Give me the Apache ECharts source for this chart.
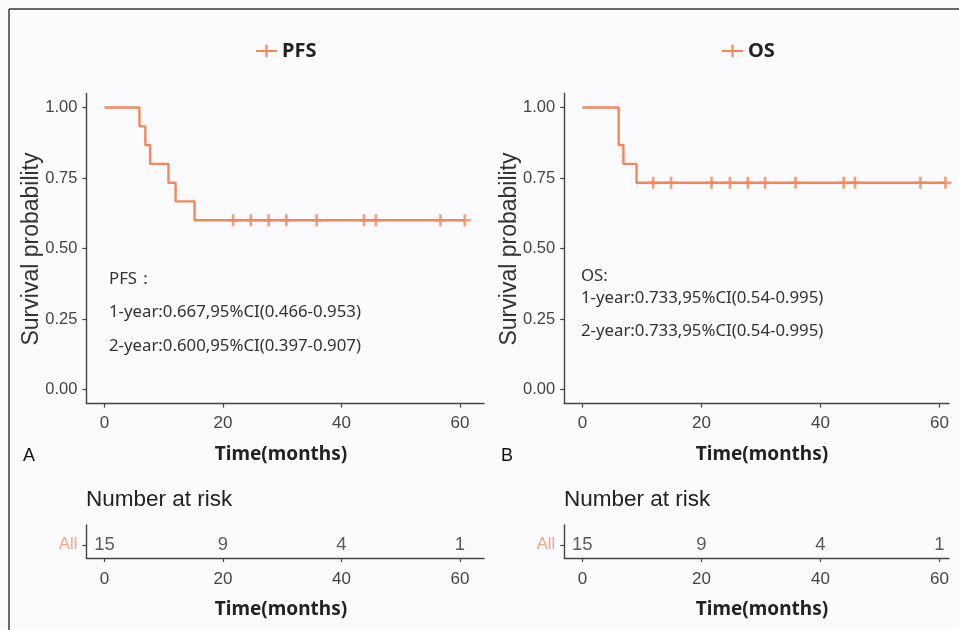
<!DOCTYPE html>
<html>
<head>
<meta charset="utf-8">
<script src="https://cdn.jsdelivr.net/npm/echarts@6/dist/echarts.min.js"></script>
<style>
html,body{margin:0;padding:0;background:#fbfbfd;}
#chart{width:959px;height:630px;}
</style>
</head>
<body>
<div id="chart"></div>
<script>
// ---- data ----
const xTicks = [0, 20, 40, 60];
const yTicks = [0, 0.25, 0.5, 0.75, 1];
// PFS Kaplan-Meier steps (time in months, survival)
const pfsTimes = [0, 5.9, 6.9, 7.7, 10.8, 12.0, 15.2, 60.8];
const pfsSurv  = [1, 0.933, 0.867, 0.800, 0.733, 0.667, 0.600, 0.600];
const pfsCensorTimes = [21.7, 24.7, 27.7, 30.7, 35.8, 43.8, 45.8, 56.7, 60.8];
const pfsCensorSurv  = [0.6, 0.6, 0.6, 0.6, 0.6, 0.6, 0.6, 0.6, 0.6];
// OS Kaplan-Meier steps
const osTimes = [0, 6.1, 6.9, 9.1, 61.0];
const osSurv  = [1, 0.867, 0.800, 0.733, 0.733];
const osCensorTimes = [11.9, 14.9, 21.7, 24.8, 27.8, 30.7, 35.8, 43.9, 45.8, 56.8, 61.0];
const osCensorSurv  = [0.733, 0.733, 0.733, 0.733, 0.733, 0.733, 0.733, 0.733, 0.733, 0.733, 0.733];
// number at risk
const riskTimes = [0, 20, 40, 60];
const riskPFS = [15, 9, 4, 1];
const riskOS  = [15, 9, 4, 1];
const pfsNotes = ['PFS：', '1-year:0.667,95%CI(0.466-0.953)', '2-year:0.600,95%CI(0.397-0.907)'];
const osNotes  = ['OS:', '1-year:0.733,95%CI(0.54-0.995)', '2-year:0.733,95%CI(0.54-0.995)'];

// ---- styling ----
const COL = '#f2875c';
const AXC = '#444';
const TICKF = '"Liberation Sans Narrow","Liberation Sans",Arial,sans-serif';
const TXTF = '"Noto Sans","Open Sans",sans-serif';
const SANS = '"Liberation Sans",Arial,sans-serif';
const plusPath = 'path://M0,3.9h10v2.2h-10z M3.9,0h2.2v10h-2.2z';
const legendPath = 'path://M0,5h20v2h-20z M9,0h2v12h-2z';

const zip = (a, b) => a.map((v, i) => [v, b[i]]);

function xAxisCfg(gi, min, max, margin) {
  return {
    type: 'value', gridIndex: gi, min: min, max: max,
    axisLine: {show: true, onZero: false, lineStyle: {color: AXC, width: 1.4}},
    axisTick: {show: true, customValues: xTicks, length: 4, lineStyle: {color: AXC, width: 1.2}},
    axisLabel: {customValues: xTicks, margin: margin, color: '#444', fontSize: 17, fontFamily: TICKF},
    splitLine: {show: false}
  };
}
function yMainCfg(gi) {
  return {
    type: 'value', gridIndex: gi, min: -0.05, max: 1.05,
    axisLine: {show: true, onZero: false, lineStyle: {color: AXC, width: 1.4}},
    axisTick: {show: true, customValues: yTicks, length: 4, lineStyle: {color: AXC, width: 1.2}},
    axisLabel: {customValues: yTicks, margin: 9, color: '#444', fontSize: 16.5, fontFamily: TICKF,
      formatter: v => v.toFixed(2)},
    splitLine: {show: false}
  };
}
function yRiskCfg(gi) {
  return {
    type: 'value', gridIndex: gi, min: 0, max: 1,
    axisLine: {show: true, onZero: false, lineStyle: {color: AXC, width: 1.4}},
    axisTick: {show: true, customValues: [0.4], length: 4, lineStyle: {color: AXC, width: 1.2}},
    axisLabel: {customValues: [0.4], margin: 9, color: '#f4a383', fontSize: 16.5, fontFamily: TICKF,
      formatter: () => 'All'},
    splitLine: {show: false}
  };
}
function riskSeries(gi, vals) {
  return {
    type: 'scatter', xAxisIndex: gi, yAxisIndex: gi, symbolSize: 0, silent: true,
    data: riskTimes.map((t, i) => [t, 0.4, vals[i]]),
    label: {show: true, position: 'inside', formatter: p => String(p.data[2]),
      color: '#333', fontSize: 18.5, fontFamily: TICKF}
  };
}
function noteText(x, y, s) {
  return {type: 'text', x: x, y: y, style: {text: s, fill: '#333', font: '16.8px ' + TXTF, verticalAlign: 'middle'}};
}
function titleText(x, y, s) {
  return {type: 'text', x: x, y: y, style: {text: s, fill: '#222', font: 'bold 19px ' + TXTF, align: 'center', verticalAlign: 'middle'}};
}

const chart = echarts.init(document.getElementById('chart'), null, {renderer: 'canvas'});
const option = {
  backgroundColor: '#fbfbfd',
  animation: false,
  legend: [
    {data: [{name: 'PFS', icon: legendPath}], left: 251, top: 36, itemWidth: 21, itemHeight: 13, itemGap: 6,
      textStyle: {fontSize: 20, fontWeight: 'bold', color: '#222', fontFamily: TXTF}},
    {data: [{name: 'OS', icon: legendPath}], left: 717, top: 36, itemWidth: 21, itemHeight: 13, itemGap: 6,
      textStyle: {fontSize: 20, fontWeight: 'bold', color: '#222', fontFamily: TXTF}}
  ],
  grid: [
    {left: 86.4, top: 93.4, width: 397.6, height: 310.2},
    {left: 564.2, top: 93.4, width: 384.8, height: 310.2},
    {left: 86.4, top: 525, width: 397.6, height: 33},
    {left: 564.2, top: 525, width: 384.8, height: 33}
  ],
  xAxis: [xAxisCfg(0, -3.05, 64.05, 11), xAxisCfg(1, -3.05, 61.6, 11), xAxisCfg(2, -3.05, 64.05, 13), xAxisCfg(3, -3.05, 61.6, 13)],
  yAxis: [yMainCfg(0), yMainCfg(1), yRiskCfg(2), yRiskCfg(3)],
  series: [
    {name: 'PFS', type: 'line', step: 'end', xAxisIndex: 0, yAxisIndex: 0, showSymbol: false, symbol: 'none',
      color: COL, lineStyle: {color: COL, width: 2.4}, data: zip(pfsTimes, pfsSurv)},
    {name: 'PFS', type: 'scatter', xAxisIndex: 0, yAxisIndex: 0, symbol: plusPath, symbolSize: 12,
      itemStyle: {color: COL}, data: zip(pfsCensorTimes, pfsCensorSurv)},
    {name: 'OS', type: 'line', step: 'end', xAxisIndex: 1, yAxisIndex: 1, showSymbol: false, symbol: 'none',
      color: COL, lineStyle: {color: COL, width: 2.4}, data: zip(osTimes, osSurv)},
    {name: 'OS', type: 'scatter', xAxisIndex: 1, yAxisIndex: 1, symbol: plusPath, symbolSize: 12,
      itemStyle: {color: COL}, data: zip(osCensorTimes, osCensorSurv)},
    riskSeries(2, riskPFS),
    riskSeries(3, riskOS)
  ],
  graphic: [
    {type: 'line', shape: {x1: 9, y1: 9, x2: 959, y2: 9}, style: {stroke: '#3a3a3a', lineWidth: 1.5}},
    {type: 'line', shape: {x1: 9, y1: 9, x2: 9, y2: 630}, style: {stroke: '#3a3a3a', lineWidth: 1.5}},
    // y axis titles
    {type: 'text', x: 32, y: 249, rotation: Math.PI / 2,
      style: {text: 'Survival probability', fill: '#333', font: '23px ' + SANS, align: 'center', verticalAlign: 'middle'}},
    {type: 'text', x: 510, y: 249, rotation: Math.PI / 2,
      style: {text: 'Survival probability', fill: '#333', font: '23px ' + SANS, align: 'center', verticalAlign: 'middle'}},
    // x axis titles
    titleText(281, 455, 'Time(months)'),
    titleText(762, 455, 'Time(months)'),
    titleText(281, 610, 'Time(months)'),
    titleText(762, 610, 'Time(months)'),
    // panel letters
    {type: 'text', x: 23, y: 456, style: {text: 'A', fill: '#111', font: '18px ' + SANS, verticalAlign: 'middle'}},
    {type: 'text', x: 501, y: 456, style: {text: 'B', fill: '#111', font: '18px ' + SANS, verticalAlign: 'middle'}},
    // number at risk
    {type: 'text', x: 86, y: 500, style: {text: 'Number at risk', fill: '#222', font: '22.5px ' + SANS, verticalAlign: 'middle'}},
    {type: 'text', x: 564, y: 500, style: {text: 'Number at risk', fill: '#222', font: '22.5px ' + SANS, verticalAlign: 'middle'}},
    // annotations
    noteText(109, 279, pfsNotes[0]),
    noteText(109, 312, pfsNotes[1]),
    noteText(109, 346, pfsNotes[2]),
    noteText(581, 276, osNotes[0]),
    noteText(581, 298, osNotes[1]),
    noteText(581, 331, osNotes[2])
  ]
};
chart.setOption(option);
</script>
</body>
</html>
